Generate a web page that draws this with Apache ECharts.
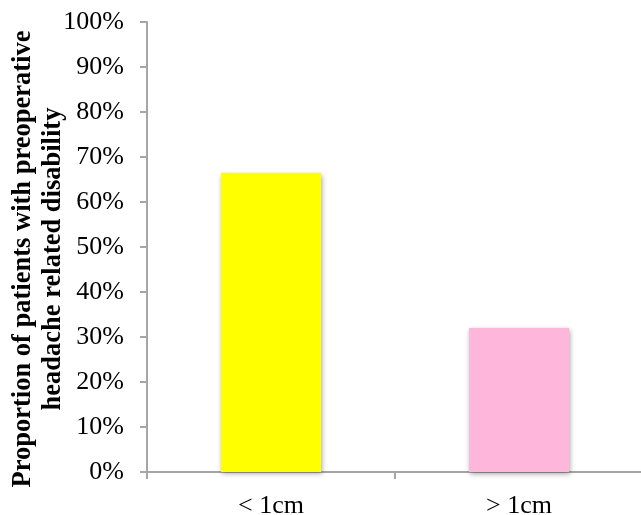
<!DOCTYPE html>
<html>
<head>
<meta charset="utf-8">
<script src="https://cdn.jsdelivr.net/npm/echarts@6/dist/echarts.min.js"></script>
<style>
  html, body { margin: 0; padding: 0; background: #fff; }
  #chart { width: 641px; height: 515px; }
</style>
</head>
<body>
<div id="chart"></div>
<script>
// Tumour size groups and share of patients with headache-related disability (%)
const categories = ['< 1cm', '> 1cm'];
const proportions = [66.5, 32];
const barColors = ['#FFFF00', '#FFB6DB'];
const yTitle = 'Proportion of patients with preoperative\nheadache related disability';

const chart = echarts.init(document.getElementById('chart'));
const serif = '"Liberation Serif", "Times New Roman", serif';
const axisGrey = '#A6A6A6';

chart.setOption({
  animation: false,
  grid: { left: 147, right: -2, top: 22, bottom: 43, containLabel: false, outerBoundsMode: 'none' },
  xAxis: {
    type: 'category',
    data: categories,
    axisLine: { lineStyle: { color: axisGrey, width: 2 } },
    axisTick: { show: true, length: 7, lineStyle: { color: axisGrey, width: 2 } },
    axisLabel: { color: '#000', fontFamily: serif, fontSize: 26, margin: 21 }
  },
  yAxis: {
    type: 'value',
    min: 0,
    max: 100,
    interval: 10,
    axisLine: { show: true, lineStyle: { color: axisGrey, width: 2 } },
    axisTick: { show: true, length: 7, lineStyle: { color: axisGrey, width: 2 } },
    splitLine: { show: false },
    axisLabel: { color: '#000', fontFamily: serif, fontSize: 26, margin: 23, formatter: '{value}%' }
  },
  // rotated two-line axis title
  graphic: [{
    type: 'text',
    x: 38,
    y: 259,
    rotation: Math.PI / 2,
    style: {
      text: yTitle,
      align: 'center',
      verticalAlign: 'middle',
      fill: '#000',
      font: 'bold 26.5px ' + serif,
      lineHeight: 30
    }
  }],
  series: [{
    type: 'bar',
    barWidth: 100,
    data: proportions.map((v, i) => ({
      value: v,
      itemStyle: {
        color: barColors[i],
        shadowColor: 'rgba(0,0,0,0.35)',
        shadowBlur: 5,
        shadowOffsetX: 1,
        shadowOffsetY: 2
      }
    }))
  }]
});
</script>
</body>
</html>
